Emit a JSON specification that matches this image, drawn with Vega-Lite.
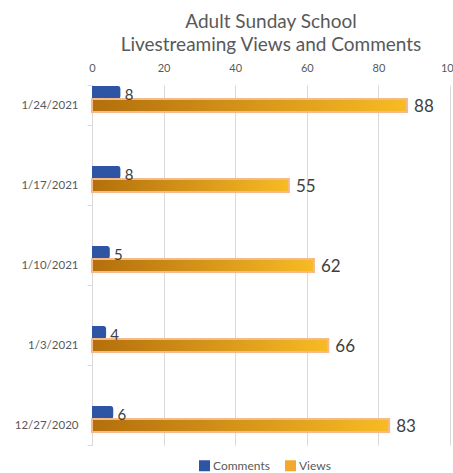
{
  "$schema": "https://vega.github.io/schema/vega-lite/v6.json",
  "width": 358,
  "height": 360,
  "autosize": {"type": "none"},
  "padding": {"left": 92, "top": 85, "right": 3, "bottom": 28},
  "background": "white",
  "title": {
    "text": ["Adult Sunday School", "Livestreaming Views and Comments"],
    "font": "Lato",
    "fontSize": 19,
    "fontWeight": "normal",
    "color": "#595959",
    "anchor": "middle",
    "lineHeight": 23,
    "offset": 7
  },
  "config": {"view": {"stroke": null}, "font": "Lato"},
  "data": {
    "values": [
      {"date": "1/24/2021", "series": "Comments", "value": 8},
      {"date": "1/24/2021", "series": "Views", "value": 88},
      {"date": "1/17/2021", "series": "Comments", "value": 8},
      {"date": "1/17/2021", "series": "Views", "value": 55},
      {"date": "1/10/2021", "series": "Comments", "value": 5},
      {"date": "1/10/2021", "series": "Views", "value": 62},
      {"date": "1/3/2021", "series": "Comments", "value": 4},
      {"date": "1/3/2021", "series": "Views", "value": 66},
      {"date": "12/27/2020", "series": "Comments", "value": 6},
      {"date": "12/27/2020", "series": "Views", "value": 83}
    ]
  },
  "encoding": {
    "y": {
      "field": "date",
      "type": "nominal",
      "sort": ["1/24/2021", "1/17/2021", "1/10/2021", "1/3/2021", "12/27/2020"],
      "scale": {"paddingInner": 0.5, "paddingOuter": 0},
      "axis": {
        "title": null,
        "tickBand": "extent",
        "domainColor": "#D9D9D9",
        "tickColor": "#D9D9D9",
        "tickSize": 5,
        "labelColor": "#595959",
        "labelFontSize": 11.5,
        "labelPadding": 9,
        "grid": false
      }
    },
    "yOffset": {
      "field": "series",
      "scale": {"domain": ["Comments", "Views"], "paddingInner": 0, "paddingOuter": 0.538, "align": 0.07}
    },
    "x": {
      "field": "value",
      "type": "quantitative",
      "scale": {"domain": [0, 100]},
      "axis": {
        "orient": "top",
        "title": null,
        "values": [0, 20, 40, 60, 80, 100],
        "ticks": false,
        "domain": false,
        "grid": true,
        "gridColor": "#D9D9D9",
        "labelColor": "#595959",
        "labelFontSize": 11,
        "labelPadding": 12,
        "labelFlush": false
      }
    }
  },
  "layer": [
    {
      "transform": [{"filter": "datum.series === 'Comments'"}],
      "mark": {"type": "bar", "cornerRadiusEnd": 3},
      "encoding": {
        "color": {
          "field": "series",
          "type": "nominal",
          "scale": {"domain": ["Comments", "Views"], "range": ["#2E55A4", "#F2A92E"]},
          "legend": {
            "orient": "none",
            "legendX": 106,
            "legendY": 374,
            "direction": "horizontal",
            "title": null,
            "symbolType": "square",
            "symbolSize": 121,
            "labelFontSize": 12,
            "labelColor": "#595959",
            "labelOffset": 2,
            "columnPadding": 14
          }
        }
      }
    },
    {
      "transform": [{"filter": "datum.series === 'Views'"}],
      "mark": {
        "type": "bar",
        "fill": {
          "gradient": "linear",
          "x1": 0, "y1": 0, "x2": 1, "y2": 0,
          "stops": [
            {"offset": 0, "color": "#B36F0C"},
            {"offset": 1, "color": "#F7BB25"}
          ]
        },
        "stroke": "#F6B98A",
        "strokeWidth": 2
      }
    },
    {
      "transform": [{"filter": "datum.series === 'Comments'"}],
      "mark": {"type": "text", "align": "left", "baseline": "middle", "dx": 4, "dy": 3, "fontSize": 15, "color": "#404040"},
      "encoding": {"text": {"field": "value", "type": "quantitative"}}
    },
    {
      "transform": [{"filter": "datum.series === 'Views'"}],
      "mark": {"type": "text", "align": "left", "baseline": "middle", "dx": 7, "dy": 2, "fontSize": 17, "color": "#404040"},
      "encoding": {"text": {"field": "value", "type": "quantitative"}}
    }
  ]
}
